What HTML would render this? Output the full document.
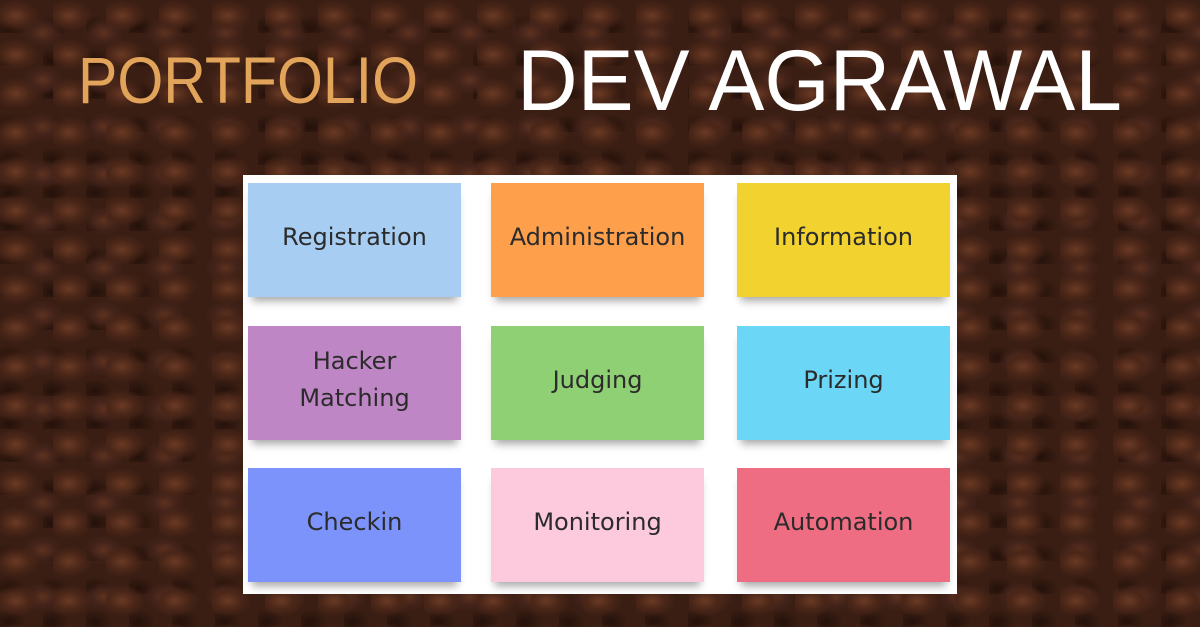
<!DOCTYPE html>
<html><head><meta charset="utf-8"><style>
html,body{margin:0;padding:0}
body{width:1200px;height:627px;overflow:hidden;position:relative;font-family:"Liberation Sans",sans-serif;
background-color:#3a1e13;
background-image:
radial-gradient(ellipse 24px 16px at 30% 40%, #6a3a24 0%, #4a2618 55%, transparent 100%),
radial-gradient(ellipse 21px 15px at 70% 70%, #5e321f 0%, #43231a 55%, transparent 100%),
radial-gradient(ellipse 18px 13px at 20% 85%, #24110a 0%, transparent 100%);
background-size:53px 39px,61px 47px,43px 33px;}
.panel{position:absolute;left:243px;top:175px;width:714px;height:419px;background:#fff}
.s{position:absolute;width:213px;height:108px;padding-bottom:6px;display:flex;align-items:center;justify-content:center;text-align:center;
font-family:"DejaVu Sans","Liberation Sans",sans-serif;font-size:24px;color:#2b2b2b;line-height:37px;
box-shadow:0 8px 8px -4px rgba(0,0,0,0.35)}
svg{position:absolute;left:0;top:0}
</style></head><body>
<svg width="1200" height="170">
<text x="78" y="103" textLength="340" lengthAdjust="spacingAndGlyphs" font-family="Liberation Sans" font-size="66" fill="#e1a45a">PORTFOLIO</text>
<text x="517" y="110" textLength="605" lengthAdjust="spacingAndGlyphs" font-family="Liberation Sans" font-size="86" fill="#ffffff">DEV AGRAWAL</text>
</svg>
<div class="panel"></div>
<div class="s" style="left:248px;top:183px;background:#a7cdf3">Registration</div>
<div class="s" style="left:491px;top:183px;background:#fe9f4c">Administration</div>
<div class="s" style="left:737px;top:183px;background:#f2d22f">Information</div>
<div class="s" style="left:248px;top:326px;background:#bf86c6">Hacker<br>Matching</div>
<div class="s" style="left:491px;top:326px;background:#8fd074">Judging</div>
<div class="s" style="left:737px;top:326px;background:#6bd6f6">Prizing</div>
<div class="s" style="left:248px;top:468px;background:#7b93fb">Checkin</div>
<div class="s" style="left:491px;top:468px;background:#fcc9dd">Monitoring</div>
<div class="s" style="left:737px;top:468px;background:#ef6d82">Automation</div>
</body></html>
